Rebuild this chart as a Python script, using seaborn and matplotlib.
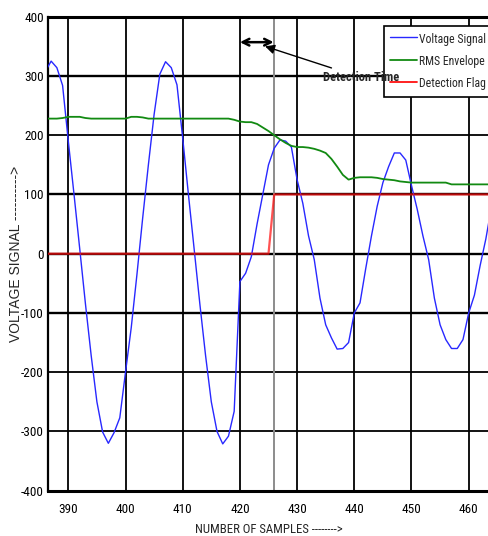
import numpy as np
import pandas as pd
import matplotlib
matplotlib.use("Agg")
import matplotlib.pyplot as plt
import seaborn as sns
from matplotlib import font_manager as fm

# ---------------- data ----------------
samples = list(range(386, 465))

voltage_signal = [
    308, 325, 314, 284, 190, 100, 8, -85, -172, -250,      # 386-395
    -301, -320, -302, -277, -200, -125, -35, 60, 150, 235,  # 396-405
    303, 324, 314, 285, 195, 100, 8, -85, -172, -250,      # 406-415
    -300, -321, -308, -266, -47, -33, -5, 50, 100, 150,     # 416-425
    178, 192, 190, 180, 125, 85, 30, -10, -75, -120,        # 426-435
    -142, -161, -160, -150, -100, -83, -25, 30, 80, 120,    # 436-445
    147, 170, 170, 158, 115, 75, 30, -10, -75, -120,        # 446-455
    -145, -160, -160, -145, -100, -70, -20, 25, 80,         # 456-464
]

rms_envelope = [
    228, 228, 228, 229, 231, 231, 231, 229, 228, 228,      # 386-395
    228, 228, 228, 228, 228, 231, 231, 230, 228, 228,      # 396-405
    228, 228, 228, 228, 228, 228, 228, 228, 228, 228,      # 406-415
    228, 228, 228, 226, 223, 222, 222, 219, 213, 207,      # 416-425
    200, 193, 187, 182, 180, 180, 179, 177, 174, 170,      # 426-435
    160, 147, 133, 125, 128, 129, 129, 129, 128, 126,      # 436-445
    125, 124, 122, 121, 120, 120, 120, 120, 120, 120,      # 446-455
    120, 117, 117, 117, 117, 117, 117, 117, 117,           # 456-464
]

detection_flag = [0] * 40 + [100] * 39   # 386-425 -> 0, 426-464 -> 100

series_names = ["Voltage Signal", "RMS Envelope", "Detection Flag"]
series_colors = ["#2828ff", "#128a12", "#ff1010"]

x_ticks = [390, 400, 410, 420, 430, 440, 450, 460]
y_ticks = [-400, -300, -200, -100, 0, 100, 200, 300, 400]
detection_sample = 426

# ---------------- fonts ----------------
sns.set_theme(style="white")
plt.rcParams["axes.unicode_minus"] = False


def find_narrow(bold=False):
    prefs = ["Liberation Sans Narrow", "Arial Narrow", "Roboto Condensed",
             "Noto Sans", "Open Sans", "DejaVu Sans", "Roboto", "Lato", "Inter"]
    cands = []
    for f in fm.fontManager.ttflist:
        nm = f.name
        fn = f.fname.lower()
        isnarrow = ("narrow" in nm.lower() or "condensed" in nm.lower()
                    or "narrow" in fn or "condensed" in fn
                    or str(f.stretch) in ("condensed", "semi-condensed", "extra-condensed"))
        if not isnarrow or f.style != "normal":
            continue
        if "semicondensed" in fn or "extracondensed" in fn:
            continue
        w = f.weight if isinstance(f.weight, int) else (700 if "bold" in str(f.weight) else 400)
        if bold and w < 600:
            continue
        if not bold and w != 400:
            continue
        if bold and ("extra" in fn or "black" in fn or "semi" in fn):
            continue
        rank = len(prefs)
        for i, p in enumerate(prefs):
            if nm.startswith(p):
                rank = i
                break
        if "mono" in nm.lower() or "serif" in nm.lower() and "sans" not in nm.lower():
            rank += 100
        cands.append((rank, f.fname))
    if cands:
        cands.sort()
        return fm.FontProperties(fname=cands[0][1])
    return fm.FontProperties(family="Liberation Sans",
                             weight="bold" if bold else "normal")


fp_tick = find_narrow()
fp_bold = find_narrow(bold=True)
names = {f.name for f in fm.fontManager.ttflist}
wide = "Liberation Sans" if "Liberation Sans" in names else "DejaVu Sans"


def fp(base, size):
    p = base.copy()
    p.set_size(size)
    return p


# ---------------- figure ----------------
W, H = 489, 536
fig = plt.figure(figsize=(W / 100, H / 100), dpi=100)
fig.patch.set_facecolor("white")
ax = fig.add_axes([48 / W, 1 - 490.7 / H, (W - 48) / W, 474 / H])
ax.set_facecolor("white")

df = pd.DataFrame({
    "sample": samples * 3,
    "value": voltage_signal + rms_envelope + detection_flag,
    "series": [series_names[0]] * len(samples)
              + [series_names[1]] * len(samples)
              + [series_names[2]] * len(samples),
})

sns.lineplot(data=df, x="sample", y="value", hue="series",
             palette=dict(zip(series_names, series_colors)),
             hue_order=series_names, ax=ax, linewidth=1.0,
             estimator=None, sort=False, zorder=5)
lines = ax.get_lines()[:3]
for ln, lw in zip(lines, [1.0, 1.3, 1.6]):
    ln.set_linewidth(lw)
lines[2].set_alpha(0.72)

ax.set_xlim(386.45, 463.55)
ax.set_ylim(-400, 400)
ax.set_xticks(x_ticks)
ax.set_yticks(y_ticks)
ax.tick_params(axis="both", length=0, colors="black")
ax.tick_params(axis="x", pad=9)
ax.tick_params(axis="y", pad=3)
for lab in ax.get_xticklabels() + ax.get_yticklabels():
    lab.set_fontproperties(fp(fp_tick, 9.5))

# grid
for yv in y_ticks[1:-1]:
    ax.axhline(yv, color="black", lw=1.7 if yv in (300, 100, 0, -100) else 1.3, zorder=1)
for xv in x_ticks:
    ax.axvline(xv, color="black", lw=1.3, zorder=1)
ax.axvline(detection_sample, color="#8c8c8c", lw=1.4, zorder=2)

for side in ["top", "bottom", "left"]:
    ax.spines[side].set_color("black")
ax.spines["top"].set_linewidth(2.2)
ax.spines["bottom"].set_linewidth(2.2)
ax.spines["left"].set_linewidth(1.6)
ax.spines["right"].set_visible(False)

ax.set_xlabel("NUMBER OF SAMPLES -------->", fontproperties=fp(fp_tick, 9.2))
ax.xaxis.set_label_coords(0.5, -(530 + 6 - 490.7) / 474)
ax.xaxis.label.set_va("bottom")
ax.set_ylabel("VOLTAGE SIGNAL ---------->", fontsize=10, family=[wide])
ax.yaxis.set_label_coords(-(48 - 23) / 441, 0.5)

# annotations
ax.annotate("", xy=(420, 357), xytext=(425.9, 357),
            arrowprops=dict(arrowstyle="<->", color="black", lw=1.8,
                            mutation_scale=12, shrinkA=0, shrinkB=0), zorder=8)
ax.annotate("Detection Time", xy=(424.4, 350), xytext=(434.6, 297),
            ha="left", va="center", fontproperties=fp(fp_bold, 9),
            arrowprops=dict(arrowstyle="-|>", color="black", lw=1.0,
                            mutation_scale=14, shrinkA=0, shrinkB=0), zorder=20)

# legend
handles, labels = ax.get_legend_handles_labels()
if ax.get_legend() is not None:
    ax.get_legend().remove()
for h, lw in zip(handles, [1.0, 1.3, 1.3]):
    h.set_linewidth(lw)
    h.set_alpha(1)
leg = ax.legend(handles, labels, loc="upper left",
                bbox_to_anchor=(384 / W, 1 - 26 / H), bbox_transform=fig.transFigure,
                prop=fp(fp_tick, 8.5), frameon=True, fancybox=False, framealpha=1,
                edgecolor="black", borderpad=0.5, handlelength=2.3, handleheight=1.5,
                handletextpad=0.2, labelspacing=0.66, borderaxespad=0)
leg.get_frame().set_linewidth(1.2)
leg.set_zorder(15)

fig.savefig("out.png", dpi=100, facecolor="white")
